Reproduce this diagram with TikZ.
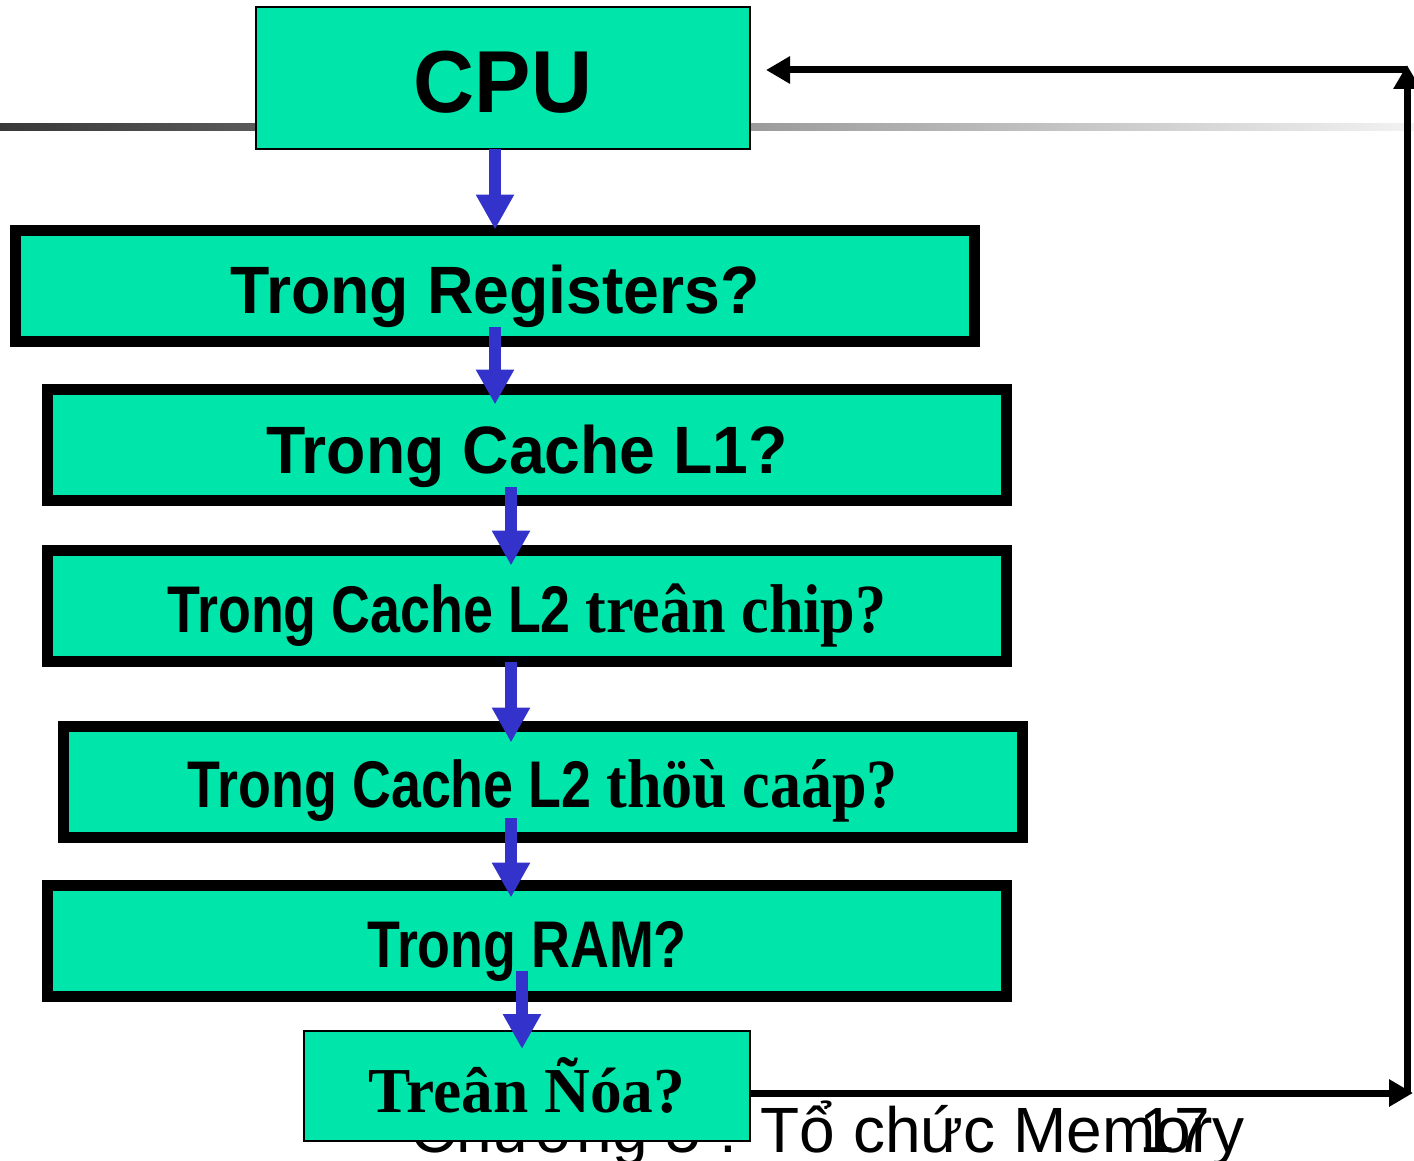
\documentclass[tikz,border=0pt]{standalone}
\usepackage{fontspec}
\setmainfont{Liberation Sans}
\newfontfamily\wsans[FakeStretch=0.96]{Liberation Sans}
\newfontfamily\nsans[FakeStretch=0.815]{Liberation Sans}
\newfontfamily\nserif[FakeStretch=0.9]{Liberation Serif}
\newfontfamily\dserif[FakeStretch=0.99]{Liberation Serif}
\usetikzlibrary{arrows.meta,calc}
\definecolor{boxgreen}{RGB}{0,229,170}
\definecolor{arrowblue}{RGB}{51,51,204}
\begin{document}
\begin{tikzpicture}[x=0.5pt,y=-0.5pt,
  thickbox/.style={draw=black, line width=5.5pt, fill=boxgreen, minimum width=479.5pt, minimum height=55.5pt, inner sep=0pt, outer sep=0pt, text depth=0pt},
  thinbox/.style={draw=black, line width=1pt, fill=boxgreen, inner sep=0pt, outer sep=0pt, text depth=0pt},
  barrow/.style={draw=arrowblue, line width=6pt, -{Triangle[width=18pt,length=17.5pt]}},
  karrow/.style={draw=black, line width=3.5pt, -{Triangle[width=13pt,length=12pt]}},
  wide/.style={font=\wsans\bfseries\fontsize{33.5}{33.5}\selectfont},
  narrow/.style={font=\nsans\bfseries\fontsize{33}{33}\selectfont},
  footer/.style={anchor=base west, inner sep=0pt, font=\fontsize{32}{32}\selectfont}
  ]
\clip (0,0) rectangle (1414,1161);
\fill[white] (0,0) rectangle (1414,1161);
\shade[left color=black!78, right color=black!5] (0,124) rectangle (1414,131);

% footer texts (behind the boxes)
\node[footer] (chapter) at (410,1152) {Chương 5 : Tổ chức Memory};
\node[footer] (pagenum) at (1139,1152) {17};

% boxes
\node[thinbox, minimum width=247pt, minimum height=71pt, text height=35pt,
      font=\wsans\bfseries\fontsize{44}{44}\selectfont] (cpu) at (503,78) {CPU};
\node[thickbox, wide, text height=27pt] (reg) at (495,286) {Trong Registers?};
\node[thickbox, wide, text height=28pt] (l1) at (527,445) {Trong Cache L1?};
\node[thickbox, narrow, text height=26pt] (l2) at (527,606)
  {Trong Cache L2 {\nserif\fontsize{34.5}{34.5}\selectfont treân chip?}};
\node[thickbox, narrow, text height=25pt] (l3) at (543,782)
  {Trong Cache L2 {\nserif\fontsize{34.5}{34.5}\selectfont thöù caáp?}};
\node[thickbox, narrow, text height=26pt] (ram) at (527,941) {Trong RAM?};
\node[thinbox, minimum width=223pt, minimum height=55pt, text height=26pt,
      font=\dserif\bfseries\fontsize{32}{32}\selectfont] (disk) at (527,1086) {Treân Ñóa?};

% blue arrows
\draw[barrow] (cpu.south -| reg.north) -- ($(reg.north)+(0,-1)$);
\draw[barrow] ($(reg.south)+(0,-15)$) -- ($(reg.south |- l1.north)+(0,15)$);
\draw[barrow] ($(l1.south)+(-16,-14)$) -- ($(l2.north)+(-16,15)$);
\draw[barrow] ($(l2.south)+(-16,0)$) -- ($(l3.north)+(-32,16)$);
\draw[barrow] ($(l3.south)+(-32,-20)$) -- ($(ram.north)+(-16,12)$);
\draw[barrow] ($(ram.south)+(-5,-26)$) -- ($(disk.north)+(-5,18)$);

% black loop back to CPU
\coordinate (br) at (1413,1093);
\coordinate (bc) at (1407,1093);
\coordinate (tc) at (1407,70);
\draw[karrow] (disk.east |- br) -- (br);
\draw[karrow] (bc) -- ($(tc)+(0,-5)$);
\draw[karrow] (tc) -- ($(cpu.east |- tc)+(16,0)$);
\end{tikzpicture}
\end{document}
